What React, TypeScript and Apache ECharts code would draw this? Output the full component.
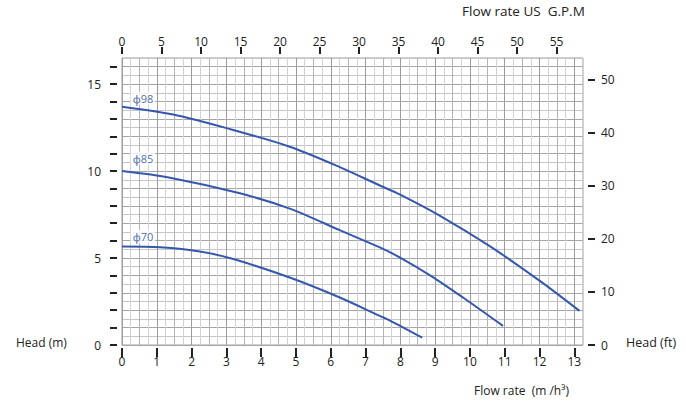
import React, { useEffect, useRef } from "react";
import * as echarts from "echarts";

// Flow rate (m³/h) and head (m) points
const curve98X = [0, 1.47, 3.0, 4.82, 6.26, 7.41, 7.98, 9.13, 10.57, 12.0, 13.15];
const curve98Y = [13.7, 13.25, 12.47, 11.4, 10.23, 9.17, 8.66, 7.44, 5.68, 3.7, 1.96];
const curve85X = [0, 1.38, 3.39, 4.82, 6.26, 7.41, 7.98, 8.9, 9.8, 10.95];
const curve85Y = [10.0, 9.62, 8.72, 7.84, 6.6, 5.61, 5.04, 3.95, 2.73, 1.1];
const curve70X = [0, 1.09, 2.24, 3.2, 4.82, 6.26, 7.41, 7.69, 8.63];
const curve70Y = [5.67, 5.62, 5.38, 4.94, 3.88, 2.73, 1.67, 1.42, 0.42];

const curveNames = ["ϕ98", "ϕ85", "ϕ70"];
const curveLabelX = [0.25, 0.25, 0.25];
const curveLabelY = [14.2, 10.75, 6.25];

const flowTicks = [0, 1, 2, 3, 4, 5, 6, 7, 8, 9, 10, 11, 12, 13];
const gpmTicks = [0, 5, 10, 15, 20, 25, 30, 35, 40, 45, 50, 55];
const headMTicks = [0, 1, 2, 3, 4, 5, 6, 7, 8, 9, 10, 11, 12, 13, 14, 15, 16];
const headMLabels = [0, 5, 10, 15];
const headFtTicks = [0, 10, 20, 30, 40, 50];

const X_MAX = 13.25;
const Y_MAX = 16.5;
const GPM_PER_M3H = 4.40287;
const FT_PER_M = 3.28084;

const FONT = "'Open Sans', 'Noto Sans', sans-serif";

function pairs(xs: number[], ys: number[]) {
  return xs.map((x, i) => [x, ys[i]]);
}

export default function App() {
  const ref = useRef<HTMLDivElement>(null);
  useEffect(() => {
    if (!ref.current) return;
    const chart = echarts.init(ref.current, null, { renderer: "svg" });
    const tickStyle = { color: "#222", width: 2 };
    const labelStyle = { color: "#222", fontSize: 12, fontFamily: FONT };
    const noLine = { show: false, onZero: false };
    const lineColor = "#3557ad";
    const curves = [
      pairs(curve98X, curve98Y),
      pairs(curve85X, curve85Y),
      pairs(curve70X, curve70Y),
    ];
    chart.setOption({
      animation: false,
      backgroundColor: "#fff",
      grid: {
        left: 122,
        right: 103,
        top: 58,
        bottom: 58,
        show: true,
        borderColor: "#a0a0a0",
        borderWidth: 1,
        backgroundColor: "transparent",
      },
      xAxis: [
        {
          type: "value",
          position: "bottom",
          min: 0,
          max: X_MAX,
          interval: 0.25,
          axisLine: noLine,
          axisTick: { show: false },
          axisLabel: { show: false },
          splitLine: {
            show: true,
            lineStyle: { color: ["#9c9c9c", "#d2d2d2", "#b4b4b4", "#d2d2d2"], width: 1 },
          },
        },
        {
          type: "value",
          position: "bottom",
          min: 0,
          max: X_MAX,
          interval: 1,
          offset: 3,
          axisLine: noLine,
          axisTick: { show: true, length: 9, lineStyle: tickStyle, customValues: flowTicks },
          axisLabel: { ...labelStyle, margin: 7, customValues: flowTicks },
          splitLine: { show: false },
        },
        {
          type: "value",
          position: "top",
          min: 0,
          max: X_MAX * GPM_PER_M3H,
          interval: 5,
          offset: 4,
          axisLine: noLine,
          axisTick: { show: true, length: 7, lineStyle: tickStyle, customValues: gpmTicks },
          axisLabel: { ...labelStyle, margin: 7, customValues: gpmTicks },
          splitLine: { show: false },
        },
      ],
      yAxis: [
        {
          type: "value",
          position: "left",
          min: 0,
          max: Y_MAX,
          interval: 0.5,
          axisLine: noLine,
          axisTick: { show: false },
          axisLabel: { show: false },
          splitLine: {
            show: true,
            lineStyle: { color: ["#a6a6a6", "#c6c6c6"], width: 1 },
          },
        },
        {
          type: "value",
          position: "left",
          min: 0,
          max: Y_MAX,
          interval: 1,
          offset: 5,
          axisLine: noLine,
          axisTick: { show: true, length: 7, lineStyle: tickStyle, customValues: headMTicks },
          axisLabel: { ...labelStyle, margin: 16, customValues: headMLabels },
          splitLine: { show: false },
        },
        {
          type: "value",
          position: "right",
          min: 0,
          max: Y_MAX * FT_PER_M,
          interval: 10,
          offset: 5,
          axisLine: noLine,
          axisTick: { show: true, length: 7, lineStyle: tickStyle, customValues: headFtTicks },
          axisLabel: { ...labelStyle, margin: 13, customValues: headFtTicks },
          splitLine: { show: false },
        },
      ],
      series: [
        ...curves.map((data, i) => ({
          type: "line",
          name: curveNames[i],
          xAxisIndex: 0,
          yAxisIndex: 0,
          data,
          smooth: 0.3,
          symbol: "none",
          lineStyle: { color: lineColor, width: 2 },
          z: 3,
        })),
        {
          type: "scatter",
          xAxisIndex: 0,
          yAxisIndex: 0,
          symbolSize: 0,
          z: 4,
          data: curveNames.map((n, i) => ({ value: [curveLabelX[i], curveLabelY[i]], name: n })),
          label: {
            show: true,
            position: "right",
            distance: 0,
            formatter: (p: any) => p.name,
            color: "#24449a",
            fontSize: 11,
            fontFamily: FONT,
            backgroundColor: "#fff",
            padding: [1, 2],
          },
        },
      ],
      graphic: [
        {
          type: "text",
          left: 462,
          top: 4,
          style: { text: "Flow rate US  G.P.M", fill: "#222", font: `13.5px ${FONT}` },
        },
        {
          type: "text",
          left: 474,
          top: 384,
          style: { text: "Flow rate  (m /h³)", fill: "#222", font: `12px ${FONT}` },
        },
        {
          type: "text",
          left: 16,
          top: 336,
          style: { text: "Head (m)", fill: "#222", font: `12px ${FONT}` },
        },
        {
          type: "text",
          left: 626,
          top: 336,
          style: { text: "Head (ft)", fill: "#222", font: `12.5px ${FONT}` },
        },
      ],
    });
    return () => chart.dispose();
  }, []);
  return (
    <div
      ref={ref}
      style={{ position: "fixed", left: 0, top: 0, width: 686, height: 403, background: "#fff" }}
    />
  );
}
